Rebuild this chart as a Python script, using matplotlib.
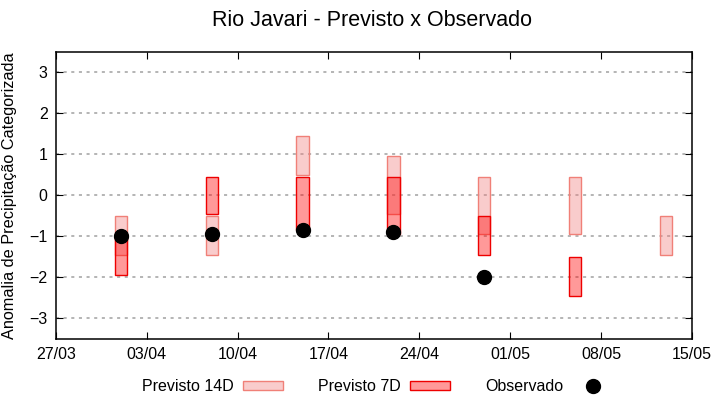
import matplotlib
matplotlib.use('Agg')
import matplotlib.pyplot as plt
import matplotlib.dates as mdates
from matplotlib.patches import Patch
from matplotlib.lines import Line2D
import numpy as np
import datetime as dt

plt.rcParams['font.family'] = ['Liberation Sans', 'DejaVu Sans']

# dados
semanas = ['2024-04-01', '2024-04-08', '2024-04-15', '2024-04-22',
           '2024-04-29', '2024-05-06', '2024-05-13']
p14_top = [-0.5, -0.5, 1.45, 0.95, 0.45, 0.45, -0.5]
p14_bot = [-1.45, -1.45, 0.5, -0.45, -0.95, -0.95, -1.45]
p7_dates = ['2024-04-01', '2024-04-08', '2024-04-15', '2024-04-22',
            '2024-04-29', '2024-05-06']
p7_top = [-1.0, 0.45, 0.45, 0.45, -0.5, -1.5]
p7_bot = [-1.95, -0.45, -0.85, -0.95, -1.45, -2.45]
obs_dates = ['2024-04-01', '2024-04-08', '2024-04-15', '2024-04-22', '2024-04-29']
obs_val = [-0.98, -0.95, -0.85, -0.9, -2.0]
xticks = ['2024-03-27', '2024-04-03', '2024-04-10', '2024-04-17',
          '2024-04-24', '2024-05-01', '2024-05-08', '2024-05-15']

def to_dt(lst):
    return [dt.datetime.strptime(s, '%Y-%m-%d') for s in lst]

c14_face = (0.94, 0.5, 0.5, 0.4)
c14_edge = '#f08078'
c7_face = (1.0, 0.0, 0.0, 0.4)
c7_edge = '#ee0000'

fig = plt.figure(figsize=(7.2, 4.0), dpi=100)
ax = fig.add_axes([0.0778, 0.1525, 0.883, 0.7185])

d14 = to_dt(semanas)
ax.bar(d14, np.array(p14_top) - np.array(p14_bot), bottom=p14_bot, width=0.95,
       color=c14_face, edgecolor=c14_edge, linewidth=1.0, zorder=2)
d7 = to_dt(p7_dates)
ax.bar(d7, np.array(p7_top) - np.array(p7_bot), bottom=p7_bot, width=0.95,
       color=c7_face, edgecolor=c7_edge, linewidth=1.0, zorder=3)
ax.plot(to_dt(obs_dates), obs_val, 'o', color='black', markersize=10, zorder=4)

ax.set_xlim(to_dt(['2024-03-27'])[0], to_dt(['2024-05-15'])[0])
ax.set_ylim(-3.5, 3.5)
ax.set_xticks(to_dt(xticks))
ax.xaxis.set_major_formatter(mdates.DateFormatter('%d/%m'))
ax.set_yticks([-3, -2, -1, 0, 1, 2, 3])
ax.tick_params(direction='in', top=True, right=True, labelsize=11.5, length=5, pad=6)
ax.yaxis.grid(True, linestyle=(0, (2, 3)), color='#a0a0a0', linewidth=1.1)
ax.set_axisbelow(True)
for s in ax.spines.values():
    s.set_linewidth(1.1)

ax.set_ylabel('Anomalia de Precipitação Categorizada', fontsize=11.7, labelpad=9)
fig.suptitle('Rio Javari - Previsto x Observado', fontsize=15.5, x=0.517, y=0.975)

handles = [Patch(facecolor=c14_face, edgecolor=c14_edge, linewidth=1.0),
           Patch(facecolor=c7_face, edgecolor=c7_edge, linewidth=1.0),
           Line2D([], [], marker='o', color='black', linestyle='none', markersize=10)]
labels = ['Previsto 14D', 'Previsto 7D', 'Observado']
fig.legend(handles, labels, loc='center', bbox_to_anchor=(0.524, 0.033), ncol=3,
           frameon=False, markerfirst=False, fontsize=11.5, handlelength=2.5,
           handleheight=0.45, columnspacing=2.2, handletextpad=0.6)

fig.savefig('out.png', dpi=100)
